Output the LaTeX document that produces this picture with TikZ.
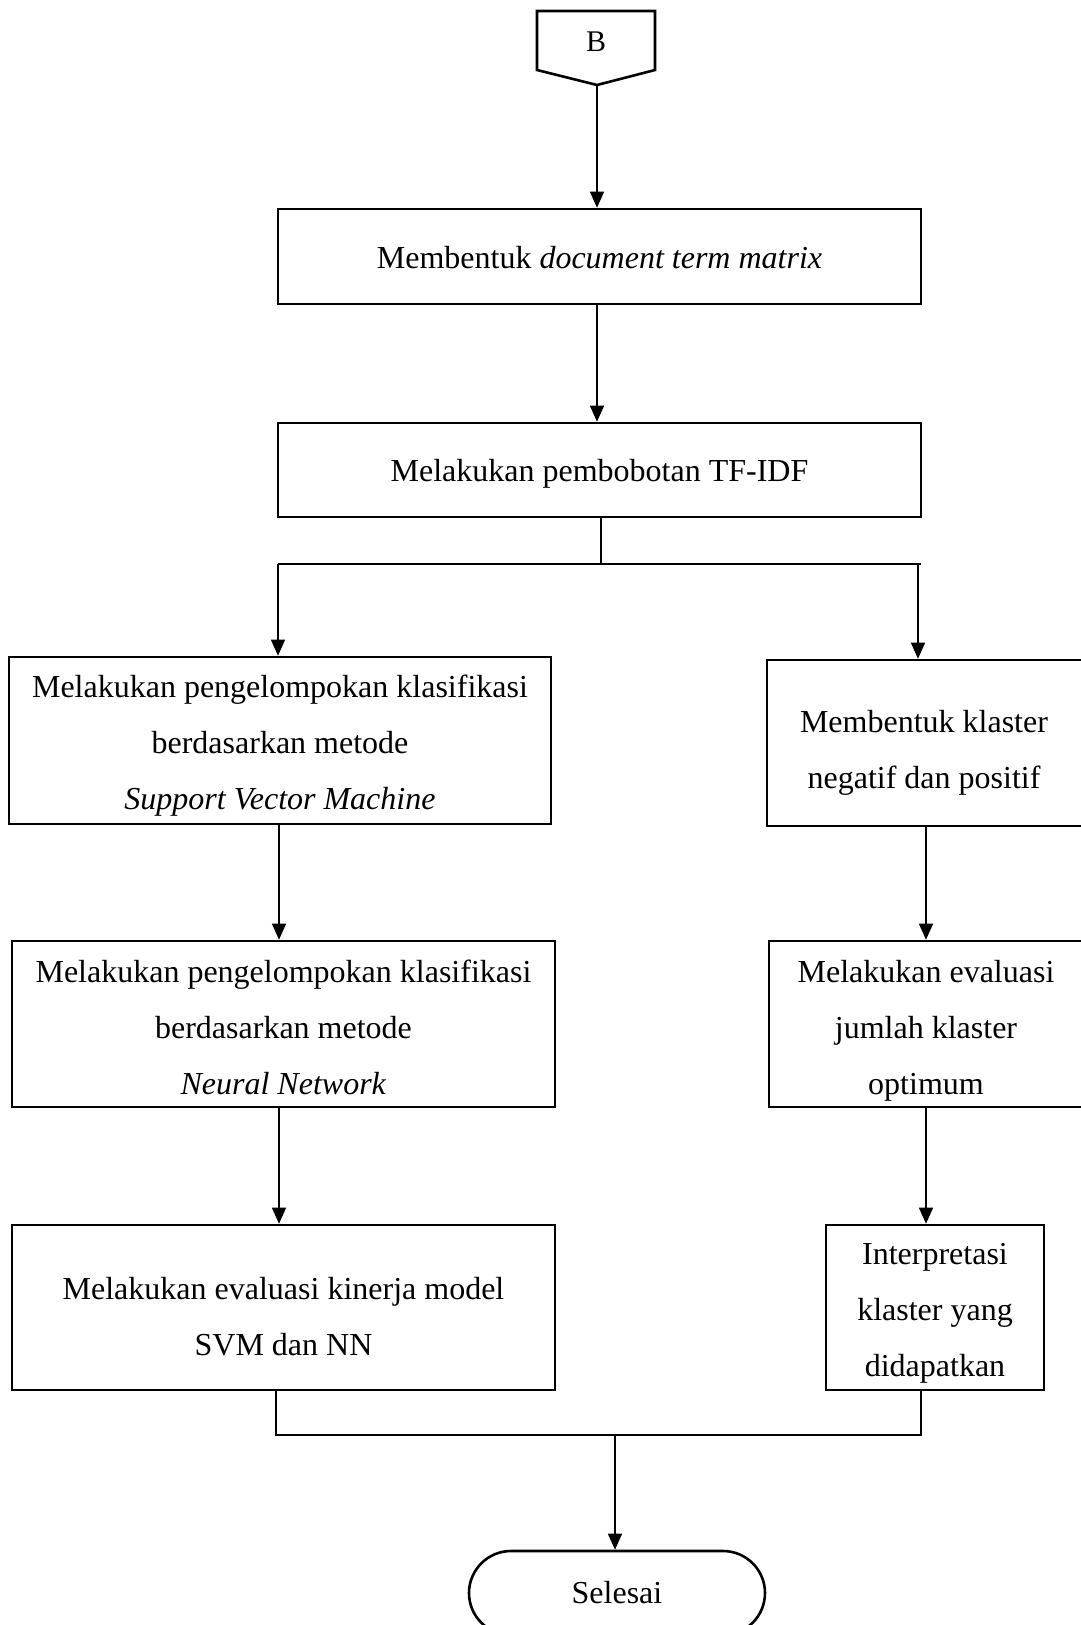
\documentclass[tikz,border=0pt]{standalone}
\usepackage{fontspec}
\setmainfont{Liberation Serif}
\usetikzlibrary{arrows.meta,shapes.misc}
\begin{document}
\begin{tikzpicture}[x=1pt,y=-1pt,
 box/.style={draw,line width=2.6pt,inner sep=0pt},
 txt/.style={inner sep=0pt,align=center,font=\fontsize{32}{56}\selectfont},
 term/.style={box,rounded rectangle,font=\fontsize{32}{56}\selectfont},
 conn/.style={line width=1.4pt},
 arr/.style={conn,-{Triangle[length=16pt,width=14pt]}}]
\useasboundingbox (0,0) rectangle (1080,1625);
% off-page connector B
\draw[line width=2.6pt,line join=miter] (537,11) -- (655,11) -- (655,70) -- (597,85) -- (537,70) -- cycle;
\node[font=\fontsize{30}{36}\selectfont] (B) at (596,42) {B};
\coordinate (Btip) at (597,85);
% boxes
\node[box,minimum width=643pt,minimum height=95pt] (b1) at (599.5,256.5) {};
\node[txt,yshift=-1pt] (t1) at (b1.center) {Membentuk \textit{document term matrix}};
\node[box,minimum width=643pt,minimum height=94pt] (b2) at (599.5,470) {};
\node[txt,yshift=-4pt] (t2) at (b2.center) {Melakukan pembobotan TF-IDF};
\node[box,minimum width=542pt,minimum height=167pt] (b3) at (280,740.5) {};
\node[txt,yshift=-5pt] (t3) at (b3.center) {Melakukan pengelompokan klasifikasi\\berdasarkan metode\\\textit{Support Vector Machine}};
\node[box,minimum width=316pt,minimum height=166pt] (b4) at (925,743) {};
\node[txt,yshift=-10pt,xshift=-1pt] (t4) at (b4.center) {Membentuk klaster\\negatif dan positif};
\node[box,minimum width=543pt,minimum height=166pt] (b5) at (283.5,1024) {};
\node[txt,yshift=-3pt] (t5) at (b5.center) {Melakukan pengelompokan klasifikasi\\berdasarkan metode\\\textit{Neural Network}};
\node[box,minimum width=314pt,minimum height=166pt] (b6) at (926,1024) {};
\node[txt,yshift=-7pt] (t6) at (b6.center) {Melakukan evaluasi\\jumlah klaster\\optimum};
\node[box,minimum width=543pt,minimum height=165pt] (b7) at (283.5,1307.5) {};
\node[txt,yshift=-9pt] (t7) at (b7.center) {Melakukan evaluasi kinerja model\\SVM dan NN};
\node[box,minimum width=218pt,minimum height=165pt] (b8) at (935,1307.5) {};
\node[txt,yshift=-6pt] (t8) at (b8.center) {Interpretasi\\klaster yang\\didapatkan};
\node[term,minimum width=296pt,minimum height=84pt] (end) at (617,1593) {Selesai};
% connectors
\draw[arr] (Btip) -- (Btip |- b1.north);
\draw[arr] (b1.south -| Btip) -- (b2.north -| Btip);
\coordinate (s0) at (601,564);
\coordinate (sl) at (278,564);
\coordinate (sr) at (918,564);
\coordinate (se) at (921,564);
\draw[conn] (b2.south -| s0) -- (s0);
\draw[conn] (sl) -- (se);
\draw[arr] (sl) -- (sl |- b3.north);
\draw[arr] (sr) -- (sr |- b4.north);
\coordinate (cl) at (279,0);
\coordinate (cr) at (926,0);
\draw[arr] (b3.south -| cl) -- (b5.north -| cl);
\draw[arr] (b5.south -| cl) -- (b7.north -| cl);
\draw[arr] (b4.south -| cr) -- (b6.north -| cr);
\draw[arr] (b6.south -| cr) -- (b8.north -| cr);
\coordinate (jl) at (276,1435);
\coordinate (jr) at (921,1435);
\coordinate (jm) at (615,1435);
\draw[conn] (b7.south -| jl) -- (jl) -- (jr) -- (b8.south -| jr);
\draw[arr] (jm) -- (jm |- end.north);
\end{tikzpicture}
\end{document}
